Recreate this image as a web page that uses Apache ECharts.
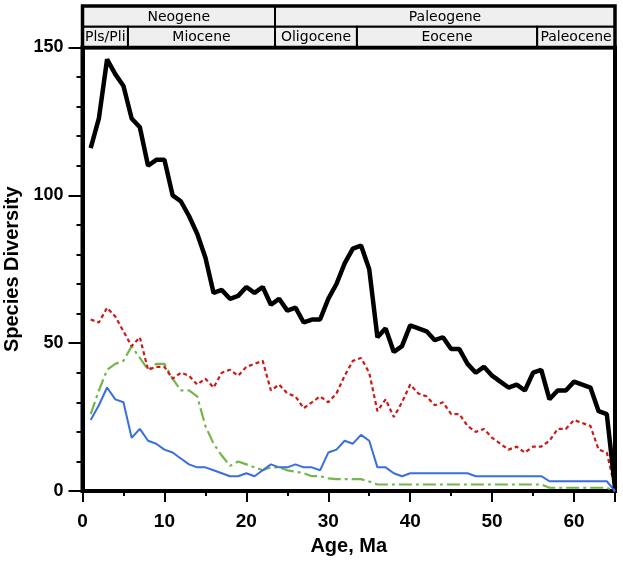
<!DOCTYPE html>
<html><head><meta charset="utf-8">
<script src="https://cdn.jsdelivr.net/npm/echarts@6/dist/echarts.min.js"></script>
<style>html,body{margin:0;padding:0;background:#fff}#c{width:623px;height:562px}</style>
</head><body><div id="c"></div>
<script>
// Age (Ma) of each sample
const ages = [1,2,3,4,5,6,7,8,9,10,11,12,13,14,15,16,17,18,19,20,21,22,23,24,25,26,27,28,29,30,
  31,32,33,34,35,36,37,38,39,40,41,42,43,44,45,46,47,48,49,50,51,52,53,54,55,56,57,58,59,60,
  61,62,63,64,65];
// Species diversity per series
const totalDiv = [116,126,146,141,137,126,123,110,112,112,100,98,93,87,79,67,68,65,66,69,67,69,63,65,61,62,57,58,58,65,
  70,77,82,83,75,52,55,47,49,56,55,54,51,52,48,48,43,40,42,39,37,35,36,34,40,41,31,34,34,37,
  36,35,27,26,1];
const redDiv = [58,57,62,59,54,49,52,41,42,42,38,40,39,36,38,35,40,41,39,42,43,44,34,36,33,32,28,30,32,30,
  33,39,44,45,40,27,31,25,30,36,33,32,29,30,26,26,22,20,21,18,16,14,15,13,15,15,17,21,21,24,
  23,22,14,13,1];
const greenDiv = [26,34,41,43,44,49,45,41,43,43,38,34,34,32,22,16,12,8.5,10,9,8,7,8,8,7,6.5,6,5,5,4.3,
  4,4,4,4,3.2,2.2,2.2,2.2,2.2,2.2,2.2,2.2,2.2,2.2,2.2,2.2,2.2,2.2,2.2,2.2,2.2,2.2,2.2,2.2,2.2,2.2,1.1,1.1,1.1,1.1,
  1.1,1.1,1.1,1.1,0];
const blueDiv = [24,29,35,31,30,18,21,17,16,14,13,11,9,8,8,7,6,5,5,6,5,7,9,8,8,9,8,8,7,13,
  14,17,16,19,17,8,8,6,5,6,6,6,6,6,6,6,6,5,5,5,5,5,5,5,5,5,3.3,3.3,3.3,3.3,
  3.3,3.3,3.3,3.3,0];
// Geologic time scale header
const periodNames = ['Neogene','Paleogene'];
const periodBounds = [0, 23.5, 65];
const epochNames = ['Pls/Pli','Miocene','Oligocene','Eocene','Paleocene'];
const epochBounds = [0, 5.55, 23.5, 33.5, 55.5, 65];

const pairs = vals => ages.map((a,i)=>[a, vals[i]]);
const chart = echarts.init(document.getElementById('c'));
const boldFont = {fontFamily:'Liberation Sans', fontWeight:'bold', color:'#000'};
chart.setOption({
  animation:false,
  grid:{left:82.5, right:8, top:47.5, bottom:71, show:true, borderColor:'#000', borderWidth:4,
    containLabel:false, outerBoundsMode:'none'},
  xAxis:{type:'value', min:0, max:65, interval:10,
    axisLine:{lineStyle:{color:'#000', width:4}},
    axisTick:{length:11, lineStyle:{color:'#000', width:2}},
    minorTick:{show:true, splitNumber:2, length:5, lineStyle:{color:'#000', width:2}},
    splitLine:{show:false},
    axisLabel:Object.assign({fontSize:19, margin:21, formatter:v=> v%10===0 ? String(v) : ''}, boldFont),
    name:'Age, Ma', nameLocation:'middle', nameGap:45,
    nameTextStyle:Object.assign({fontSize:20}, boldFont)},
  yAxis:{type:'value', min:0, max:150, interval:50,
    axisLine:{lineStyle:{color:'#000', width:4}},
    axisTick:{length:14, lineStyle:{color:'#000', width:2}},
    minorTick:{show:true, splitNumber:5, length:6, lineStyle:{color:'#000', width:2}},
    splitLine:{show:false},
    axisLabel:Object.assign({fontSize:18, margin:19}, boldFont),
    name:'Species Diversity', nameLocation:'middle', nameGap:55,
    nameTextStyle:Object.assign({fontSize:20}, boldFont)},
  series:[
    {type:'line', data:pairs(greenDiv), symbol:'none', lineStyle:{color:'#74b64a', width:2.2, type:[13,4,3,4]}, z:2},
    {type:'line', data:pairs(blueDiv), symbol:'none', lineStyle:{color:'#3a6ee0', width:2}, z:3},
    {type:'line', data:pairs(redDiv), symbol:'none', lineStyle:{color:'#cc1a1a', width:2.2, type:[4,3]}, z:4},
    {type:'line', data:pairs(totalDiv), symbol:'none', lineStyle:{color:'#000', width:4.5}, z:5}
  ]
});

const px = v => chart.convertToPixel({xAxisIndex:0}, v);
const hTop = 6, hMid = 26.8, hBot = 47.5;
const els = [];
const addRow = (names, bounds, y0, y1) => {
  names.forEach((n,i)=>{
    const x0 = px(bounds[i]), x1 = px(bounds[i+1]);
    els.push({type:'rect', shape:{x:x0, y:y0, width:x1-x0, height:y1-y0},
      style:{fill:'#efefef', stroke:'#000', lineWidth:2}, z:10});
    els.push({type:'text', x:(x0+x1)/2, y:(y0+y1)/2 + 0.5,
      style:{text:n, fill:'#000', font:'14px "DejaVu Sans"', align:'center', verticalAlign:'middle'}, z:11});
  });
};
addRow(periodNames, periodBounds, hTop, hMid);
addRow(epochNames, epochBounds, hMid, hBot);
els.push({type:'rect', shape:{x:px(0), y:hTop, width:px(65)-px(0), height:hBot-hTop},
  style:{fill:null, stroke:'#000', lineWidth:3.5}, z:12});
chart.setOption({graphic:{elements:els}});
</script></body></html>
